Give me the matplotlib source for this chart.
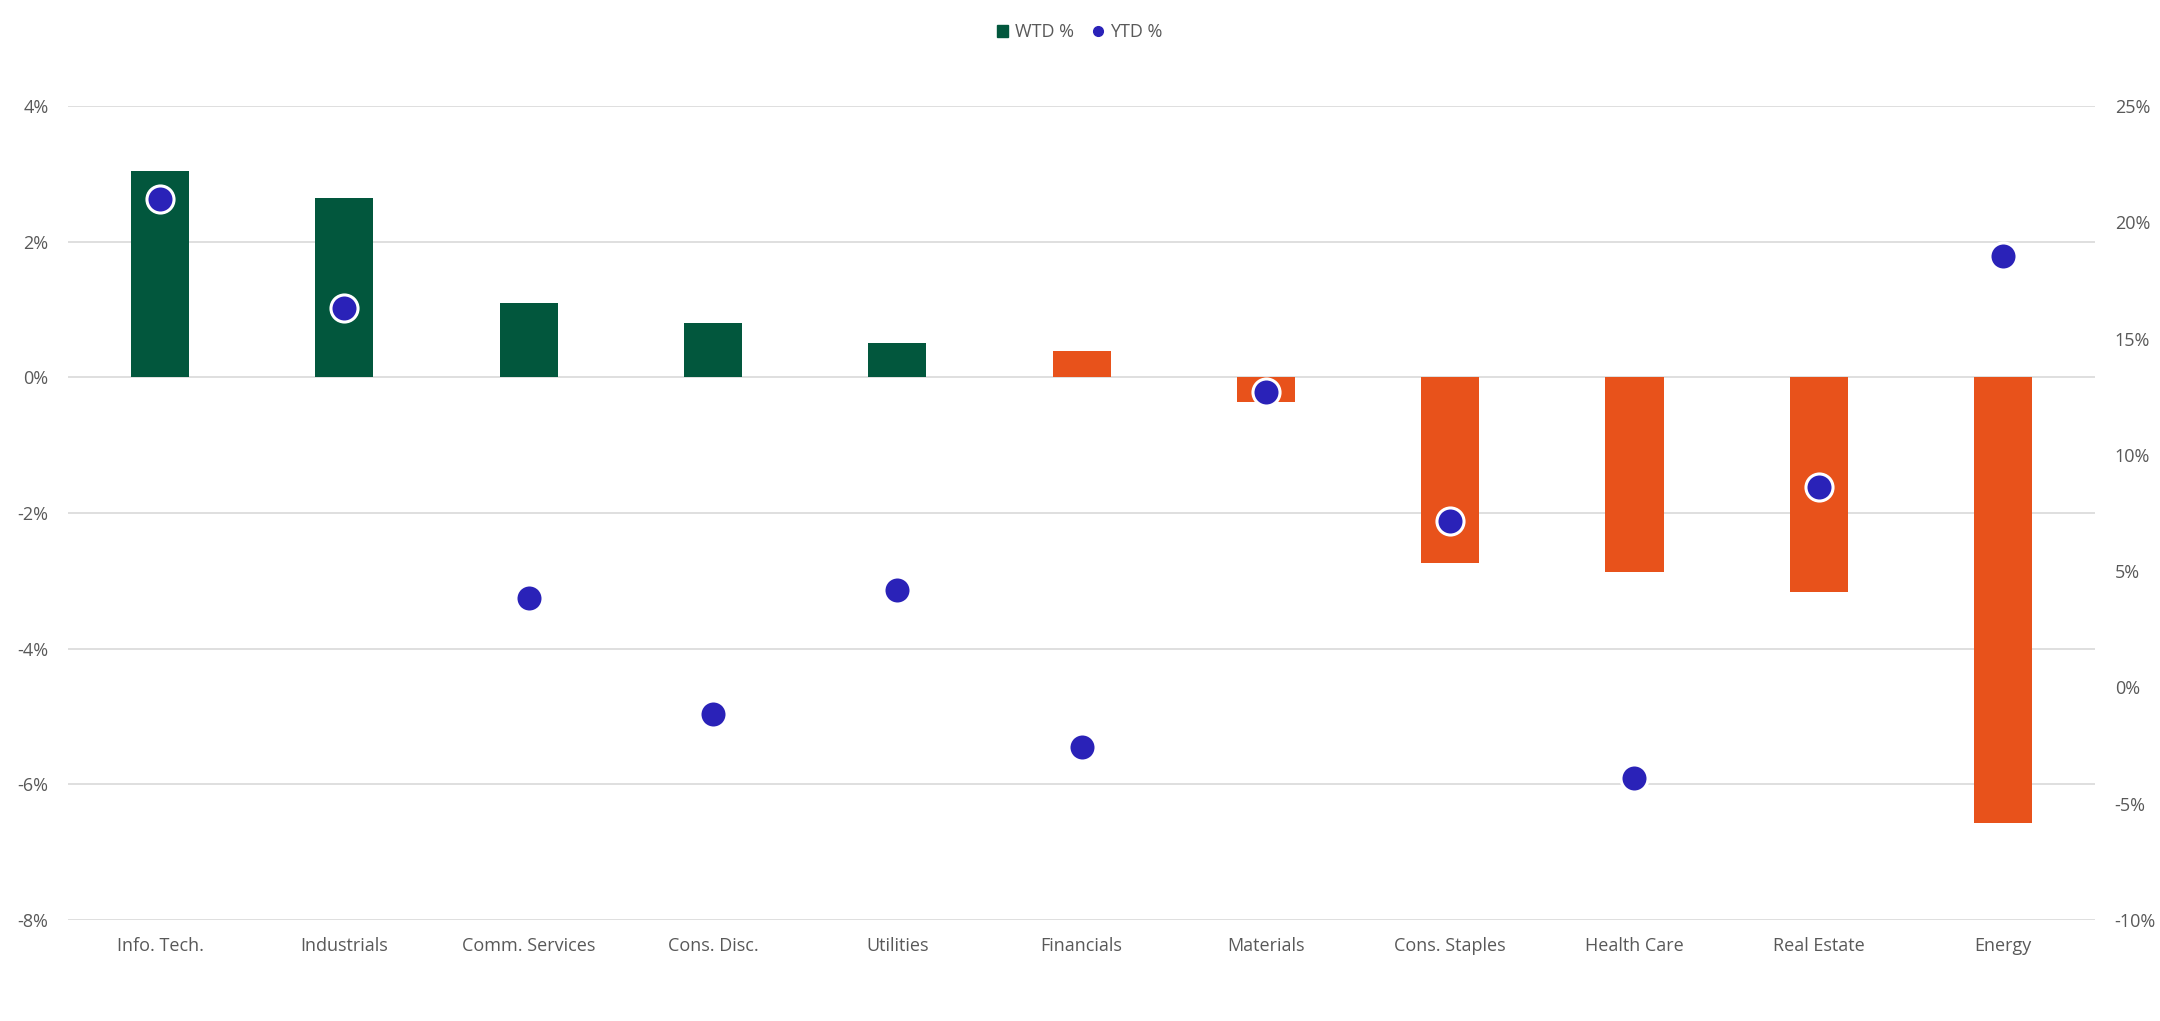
import matplotlib.pyplot as plt
from matplotlib.lines import Line2D
from matplotlib.patches import Patch
from matplotlib.ticker import FuncFormatter

sectors = ['Info. Tech.', 'Industrials', 'Comm. Services', 'Cons. Disc.', 'Utilities',
           'Financials', 'Materials', 'Cons. Staples', 'Health Care', 'Real Estate', 'Energy']
wtd = [3.05, 2.64, 1.10, 0.80, 0.51, 0.39, -0.36, -2.74, -2.87, -3.17, -6.57]
ytd = [21.0, 16.3, 3.85, -1.13, 4.2, -2.55, 12.7, 7.17, -3.9, 8.6, 18.55]
bar_colors = ['#02573D'] * 5 + ['#E8521B'] * 6

text_color = '#595959'
plt.rcParams['font.family'] = ['Open Sans', 'DejaVu Sans']

fig = plt.figure(figsize=(21.6, 10.21), dpi=100)
ax = fig.add_axes([0.0315, 0.099, 0.9385, 0.797])
ax2 = ax.twinx()

x = range(len(sectors))
ax.bar(x, wtd, width=0.315, color=bar_colors, zorder=2)
ax2.scatter(x, ytd, s=380, color='#2A22B8', edgecolors='white', linewidths=2.2, zorder=3)

ax.set_ylim(-8, 4)
ax.set_yticks(range(-8, 5, 2))
ax2.set_ylim(-10, 25)
ax2.set_yticks(range(-10, 26, 5))
ax.set_xlim(-0.5, len(sectors) - 0.5)
pct = FuncFormatter(lambda v, p: f'{v:.0f}%')
ax.yaxis.set_major_formatter(pct)
ax2.yaxis.set_major_formatter(pct)

ax.set_xticks(list(x))
ax.set_xticklabels(sectors)
ax.grid(axis='y', color='#D9D9D9', linewidth=1.2, zorder=0)
ax.set_axisbelow(True)

for a in (ax, ax2):
    for s in a.spines.values():
        s.set_visible(False)
    a.tick_params(length=0, labelsize=13, colors=text_color)
ax.tick_params(axis='y', pad=14)
ax2.tick_params(axis='y', pad=14)
ax.tick_params(axis='x', pad=12)

handles = [Patch(color='#02573D', label='WTD %'),
           Line2D([], [], marker='o', linestyle='', color='#2A22B8', markersize=7, label='YTD %')]
leg = fig.legend(handles=handles, loc='upper center', bbox_to_anchor=(0.5, 0.993), ncol=2,
                 frameon=False, fontsize=13, handlelength=0.6, handletextpad=0.4, columnspacing=1.0)
for t in leg.get_texts():
    t.set_color(text_color)

fig.savefig('out.png', dpi=100, facecolor='white')
